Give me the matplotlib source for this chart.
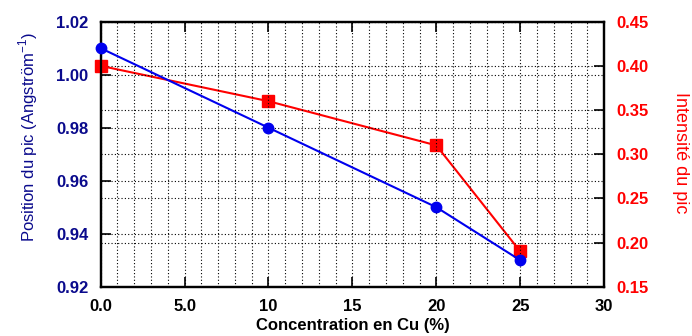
import matplotlib
matplotlib.use("Agg")
import matplotlib.pyplot as plt
from matplotlib.ticker import MultipleLocator, FixedLocator, FixedFormatter

plt.rcParams['font.family'] = ['Liberation Sans', 'DejaVu Sans']

# data
conc = [0, 10, 20, 25]
position = [1.010, 0.980, 0.950, 0.930]
intensite = [0.400, 0.360, 0.310, 0.190]
x_ticks = [0, 5, 10, 15, 20, 25, 30]
x_labels = ["0.0", "5.0", "10", "15", "20", "25", "30"]

BLUE = '#0000ee'
NAVY = '#0a0a8c'
RED = '#ff0000'
grid_kw = dict(color='black', linestyle=(0, (1, 2)), linewidth=0.8)

fig = plt.figure(figsize=(6.92, 3.36), dpi=100)
ax = fig.add_axes([0.1455, 0.1467, 0.7275, 0.7887])
ax2 = ax.twinx()
# left axis above the right one, so the blue curve sits on top
ax.set_zorder(ax2.get_zorder() + 1)
ax.patch.set_visible(False)

# --- right axis: intensity ---
ax2.plot(conc, intensite, color=RED, linewidth=1.5, marker='s', markersize=8,
         markerfacecolor=RED, markeredgecolor=RED, zorder=3, clip_on=False)
ax2.set_ylim(0.15, 0.45)
ax2.yaxis.set_major_locator(MultipleLocator(0.05))
ax2.yaxis.set_major_formatter(plt.FormatStrFormatter('%.2f'))
ax2.grid(True, axis='y', **grid_kw)
ax2.tick_params(axis='y', direction='in', length=7, width=1.2, pad=9,
                labelsize=12, labelcolor=RED)
for lab in ax2.get_yticklabels():
    lab.set_fontweight('bold')
ax2.set_ylabel("Intensité du pic", color=RED, fontsize=13, rotation=270,
               va='center', ha='center', rotation_mode='anchor')
ax2.yaxis.set_label_coords(1.1517, 0.506)

# --- left axis: peak position ---
ax.plot(conc, position, color=BLUE, linewidth=1.5, marker='o', markersize=7.5,
        markerfacecolor=BLUE, markeredgecolor=BLUE, zorder=3, clip_on=False)
ax.set_xlim(0, 30)
ax.set_ylim(0.92, 1.02)
ax.xaxis.set_major_locator(FixedLocator(x_ticks))
ax.xaxis.set_major_formatter(FixedFormatter(x_labels))
ax.xaxis.set_minor_locator(MultipleLocator(1))
ax.yaxis.set_major_locator(MultipleLocator(0.02))
ax.yaxis.set_major_formatter(plt.FormatStrFormatter('%.2f'))
ax.grid(True, axis='x', which='both', **grid_kw)
ax.grid(True, axis='y', which='major', **grid_kw)
ax.tick_params(axis='both', which='major', direction='in', length=7,
               width=1.2, pad=9, labelsize=12, top=True)
ax.tick_params(axis='x', which='minor', length=0, top=True)
ax.tick_params(axis='y', labelcolor=NAVY)
for lab in ax.get_xticklabels() + ax.get_yticklabels():
    lab.set_fontweight('bold')

ax.set_xlabel("Concentration en Cu (%)", fontsize=12, fontweight='bold',
              va='center')
ax.xaxis.set_label_coords(0.5, -0.1445)
ax.set_ylabel("Position du pic (Angström$^{\\mathregular{-1}}$)", color=NAVY,
              fontsize=12, va='center', ha='center', rotation_mode='anchor')
ax.yaxis.set_label_coords(-0.1445, 0.565)

for a in (ax, ax2):
    for sp in a.spines.values():
        sp.set_linewidth(1.6)

fig.savefig("out.png", dpi=100)
